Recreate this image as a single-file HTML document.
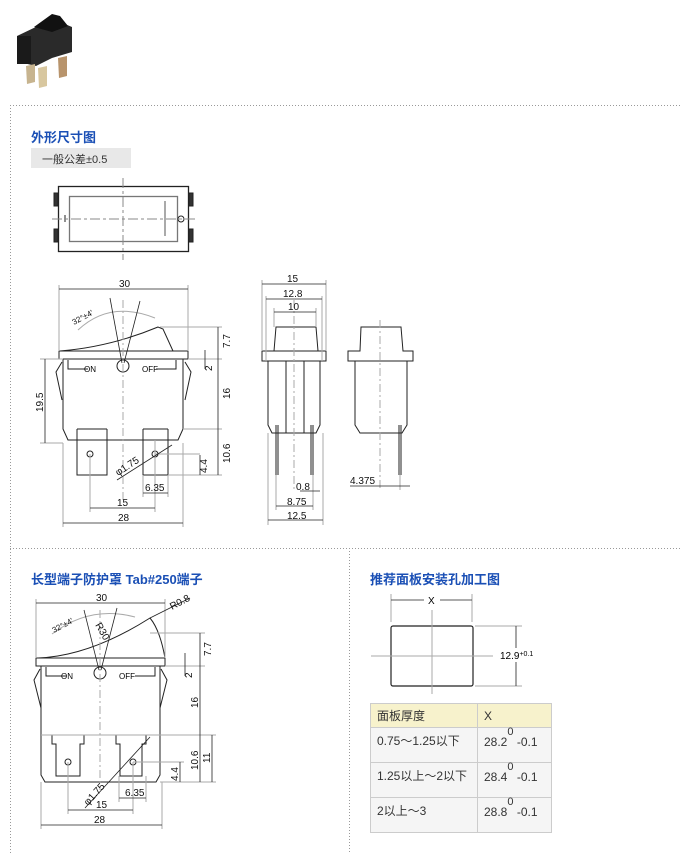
<!DOCTYPE html>
<html><head><meta charset="utf-8"><style>
html,body{margin:0;padding:0;background:#fff;width:680px;height:854px;overflow:hidden;font-family:"Liberation Sans","Noto Sans CJK SC",sans-serif;}
.t{position:absolute;color:#1a4fb5;font-weight:bold;font-size:13px;}
svg{position:absolute;left:0;top:0}
table{position:absolute;left:370px;top:703px;border-collapse:collapse;font-size:12px;color:#333}
td{border:1px solid #ccc;vertical-align:top;padding:4px 6px;background:#f5f5f5}
th{border:1px solid #ccc;background:#f7f2cc;font-weight:normal;text-align:left;padding:3px 6px;height:15px}
</style></head><body>
<svg width="680" height="854" viewBox="0 0 680 854" font-family="Liberation Sans, sans-serif" font-size="10">
<!-- photo -->
<g>
<polygon points="17,36 40,25 60,22 72,27 72,52 52,58 36,66 19,62" fill="#2a2a2a"/>
<polygon points="34,27 52,14 60,16 68,26 52,32" fill="#111"/>
<rect x="17" y="36" width="14" height="28" fill="#1a1a1a"/>
<polygon points="26,66 35,64 35,82 27,84" fill="#c7b48f"/>
<polygon points="38,68 47,66 47,86 39,88" fill="#d8c79f"/>
<polygon points="58,58 67,56 67,76 59,78" fill="#b8946c"/>
</g>
<!-- frame -->
<g stroke="#999" stroke-dasharray="1,2" fill="none">
<line x1="10" y1="105.5" x2="680" y2="105.5"/>
<line x1="10.5" y1="105" x2="10.5" y2="854"/>
<line x1="10" y1="548.5" x2="680" y2="548.5"/>
<line x1="349.5" y1="548" x2="349.5" y2="854"/>
</g>
<rect x="31" y="148" width="100" height="20" fill="#e8e8e8"/>
<text x="42" y="163" font-size="11" fill="#333" font-family="Liberation Sans, Noto Sans CJK SC, sans-serif">一般公差±0.5</text>
<!-- top view -->
<g stroke="#222" fill="none">
<rect x="58.5" y="186.5" width="130" height="65" stroke-width="1.3"/>
<rect x="69.5" y="196.5" width="108" height="45" stroke="#777" stroke-width="1.3"/>
<rect x="54" y="193" width="4" height="13" fill="#333"/><rect x="54" y="229" width="4" height="13" fill="#333"/>
<rect x="189" y="193" width="4" height="13" fill="#333"/><rect x="189" y="229" width="4" height="13" fill="#333"/>
<circle cx="181" cy="219" r="3"/><line x1="65" y1="215" x2="65" y2="222"/><line x1="165" y1="201" x2="165" y2="236" stroke="#555"/>
</g>
<g stroke="#888" stroke-dasharray="10,3,3,3"><line x1="52" y1="219" x2="197" y2="219"/><line x1="123" y1="178" x2="123" y2="260"/></g>
<!-- front view -->
<g stroke="#222" fill="none" stroke-width="1">
<path d="M60,351 Q110,347 158,327 L163,329 L173,351" />
<rect x="59" y="351" width="129" height="8"/>
<path d="M63,359 L63,429 L68,440 L178,440 L183,429 L183,359"/>
<path d="M62,362 L56,372 L62,400 M185,362 L191,372 L185,400"/>
<path d="M68,360 L68,369 L88,369 M176,360 L176,369 L156,369"/>
<circle cx="123" cy="366" r="6"/>
<path d="M77,429 L77,475 L107,475 L107,429 M143,429 L143,475 L168,475 L168,429"/>
<circle cx="90" cy="454" r="3"/><circle cx="155" cy="454" r="3"/>
<path d="M77,429 L107,429 M143,429 L168,429"/>
</g>
<text x="84" y="372" font-size="8">ON</text><text x="142" y="372" font-size="8">OFF</text>
<g stroke="#aaa" fill="none">
<path d="M78,330 Q110,300 155,318"/>
<line x1="59" y1="285" x2="59" y2="351"/><line x1="188" y1="285" x2="188" y2="351"/>
<line x1="160" y1="327" x2="222" y2="327"/><line x1="188" y1="359" x2="222" y2="359"/>
<line x1="183" y1="429" x2="222" y2="429"/><line x1="168" y1="475" x2="222" y2="475"/>
<line x1="40" y1="359" x2="63" y2="359"/><line x1="40" y1="443" x2="63" y2="443"/>
<line x1="63" y1="443" x2="63" y2="527"/><line x1="183" y1="443" x2="183" y2="527"/>
<line x1="90" y1="454" x2="90" y2="512"/><line x1="155" y1="440" x2="155" y2="512"/>
<line x1="143" y1="475" x2="143" y2="497"/><line x1="168" y1="475" x2="168" y2="497"/>
<line x1="155" y1="454" x2="200" y2="454"/>
<line x1="123" y1="300" x2="123" y2="500" stroke-dasharray="8,3,2,3"/>
</g>
<g stroke="#222" stroke-width="0.8">
<line x1="59" y1="289" x2="188" y2="289"/>
<line x1="218" y1="327" x2="218" y2="475"/><line x1="205" y1="350" x2="205" y2="369"/>
<line x1="200" y1="455" x2="200" y2="475"/><line x1="45" y1="359" x2="45" y2="443"/>
<line x1="90" y1="508" x2="155" y2="508"/><line x1="63" y1="523" x2="183" y2="523"/>
<line x1="143" y1="493" x2="168" y2="493"/><line x1="117" y1="480" x2="172" y2="445"/>
<line x1="122" y1="363" x2="110" y2="298"/><line x1="124" y1="363" x2="140" y2="301"/>
</g>
<g font-size="10" fill="#111">
<text x="119" y="287">30</text>
<text x="74" y="325" font-size="8" transform="rotate(-28 74 325)">32°±4'</text>
<text x="230" y="348" transform="rotate(-90 230 348)">7.7</text>
<text x="212" y="371" transform="rotate(-90 212 371)">2</text>
<text x="230" y="399" transform="rotate(-90 230 399)">16</text>
<text x="230" y="463" transform="rotate(-90 230 463)">10.6</text>
<text x="207" y="473" transform="rotate(-90 207 473)">4.4</text>
<text x="43" y="412" transform="rotate(-90 43 412)">19.5</text>
<text x="118" y="476" transform="rotate(-33 118 476)">φ1.75</text>
<text x="145" y="491">6.35</text><text x="117" y="506">15</text><text x="118" y="521">28</text>
</g>
<!-- side view -->
<g stroke="#222" fill="none">
<path d="M274,351 L276,327 L316,327 L318,351"/>
<rect x="262" y="351" width="64" height="10"/>
<path d="M268,361 L268,425 L272,433 L316,433 L320,425 L320,361"/>
<path d="M276,425 L276,475 M313,425 L313,475 M278,425 L278,475 M311,425 L311,475"/>
<path d="M286,361 L286,433 M304,361 L304,433"/>
<path d="M352,351 L360,351 L361,327 L401,327 L403,351 L413,351 L413,361 L348,361 L348,351 Z"/>
<path d="M355,361 L355,425 L360,433 L402,433 L407,425 L407,361"/>
<path d="M399,425 L399,475 M401,425 L401,475"/>
</g>
<g stroke="#aaa" fill="none">
<line x1="262" y1="280" x2="262" y2="351"/><line x1="326" y1="280" x2="326" y2="351"/>
<line x1="266" y1="296" x2="266" y2="361"/><line x1="322" y1="296" x2="322" y2="361"/>
<line x1="274" y1="308" x2="274" y2="327"/><line x1="316" y1="308" x2="316" y2="327"/>
<line x1="268" y1="433" x2="268" y2="525"/><line x1="323" y1="433" x2="323" y2="525"/>
<line x1="276" y1="475" x2="276" y2="510"/><line x1="313" y1="475" x2="313" y2="510"/>
<line x1="294" y1="300" x2="294" y2="490" stroke-dasharray="8,3,2,3"/>
<line x1="380" y1="320" x2="380" y2="490" stroke-dasharray="8,3,2,3"/>
<line x1="400" y1="475" x2="400" y2="490"/>
</g>
<g stroke="#222" stroke-width="0.8">
<line x1="262" y1="284" x2="326" y2="284"/><line x1="266" y1="299" x2="322" y2="299"/><line x1="274" y1="312" x2="316" y2="312"/>
<line x1="300" y1="491" x2="320" y2="491"/><line x1="276" y1="506" x2="313" y2="506"/><line x1="268" y1="520" x2="323" y2="520"/>
<line x1="350" y1="486" x2="410" y2="486"/>
</g>
<g font-size="10" fill="#111">
<text x="287" y="282">15</text><text x="283" y="297">12.8</text><text x="288" y="310">10</text>
<text x="296" y="490">0.8</text><text x="287" y="505">8.75</text><text x="287" y="519">12.5</text><text x="350" y="484">4.375</text>
</g>
<!-- bottom left -->
<g stroke="#222" fill="none">
<path d="M38,658 Q90,656 150,618 Q160,630 165,658"/>
<rect x="36" y="658" width="129" height="8"/>
<path d="M41,666 L41,775 L45,782 L156,782 L160,775 L160,666"/>
<path d="M40,669 L34,680 L41,708 M161,669 L167,680 L160,708"/>
<path d="M46,667 L46,676 L66,676 M155,667 L155,676 L135,676"/>
<circle cx="100" cy="673" r="6"/>
<path d="M52,735 L52,744 L56,744 L56,776 L80,776 L80,744 L84,744 L84,735 M116,735 L116,744 L120,744 L120,776 L142,776 L142,744 L146,744 L146,735"/>
<circle cx="68" cy="762" r="3"/><circle cx="133" cy="762" r="3"/>
<line x1="41" y1="735" x2="160" y2="735" stroke="#aaa"/>
</g>
<text x="61" y="679" font-size="8">ON</text><text x="119" y="679" font-size="8">OFF</text>
<g stroke="#aaa" fill="none">
<path d="M52,634 Q90,605 135,617"/>
<line x1="36" y1="599" x2="36" y2="658"/><line x1="165" y1="599" x2="165" y2="658"/>
<line x1="150" y1="633" x2="205" y2="633"/><line x1="165" y1="666" x2="205" y2="666"/>
<line x1="160" y1="735" x2="216" y2="735"/><line x1="160" y1="782" x2="216" y2="782"/>
<line x1="133" y1="762" x2="184" y2="762"/>
<line x1="41" y1="782" x2="41" y2="829"/><line x1="162" y1="782" x2="162" y2="829"/>
<line x1="68" y1="762" x2="68" y2="814"/><line x1="133" y1="762" x2="133" y2="814"/>
<line x1="119" y1="776" x2="119" y2="802"/><line x1="146" y1="776" x2="146" y2="802"/>
<line x1="100" y1="610" x2="100" y2="790" stroke-dasharray="8,3,2,3"/>
</g>
<g stroke="#222" stroke-width="0.8">
<line x1="36" y1="603" x2="165" y2="603"/>
<line x1="200" y1="633" x2="200" y2="782"/><line x1="212" y1="735" x2="212" y2="782"/>
<line x1="185" y1="653" x2="185" y2="676"/><line x1="180" y1="762" x2="180" y2="782"/>
<line x1="68" y1="810" x2="133" y2="810"/><line x1="41" y1="825" x2="162" y2="825"/>
<line x1="119" y1="798" x2="146" y2="798"/>
<line x1="85" y1="808" x2="150" y2="737"/><line x1="150" y1="618" x2="190" y2="598"/>
<line x1="99" y1="670" x2="84" y2="610"/><line x1="101" y1="670" x2="117" y2="608"/>
</g>
<g font-size="10" fill="#111">
<text x="96" y="601">30</text>
<text x="172" y="610" transform="rotate(-28 172 610)">R0.8</text>
<text x="95" y="625" transform="rotate(60 95 625)">R30</text>
<text x="54" y="633" font-size="8" transform="rotate(-28 54 633)">32°±4'</text>
<text x="211" y="656" transform="rotate(-90 211 656)">7.7</text>
<text x="192" y="678" transform="rotate(-90 192 678)">2</text>
<text x="198" y="708" transform="rotate(-90 198 708)">16</text>
<text x="198" y="770" transform="rotate(-90 198 770)">10.6</text>
<text x="210" y="763" transform="rotate(-90 210 763)">11</text>
<text x="178" y="781" transform="rotate(-90 178 781)">4.4</text>
<text x="88" y="806" transform="rotate(-48 88 806)">φ1.75</text>
<text x="125" y="796">6.35</text>
<text x="96" y="808">15</text>
<text x="94" y="823">28</text>
</g>
<!-- bottom right -->
<g stroke="#222" fill="none">
<rect x="391" y="626" width="82" height="60" rx="2" stroke-width="1.2"/>
</g>
<g stroke="#aaa">
<line x1="371" y1="656" x2="493" y2="656"/><line x1="432" y1="610" x2="432" y2="694"/>
<line x1="391" y1="594" x2="391" y2="622"/><line x1="472" y1="594" x2="472" y2="622"/>
<line x1="475" y1="626" x2="522" y2="626"/><line x1="475" y1="686" x2="522" y2="686"/>
</g>
<g stroke="#222" stroke-width="0.8">
<line x1="391" y1="600" x2="424" y2="600"/><line x1="440" y1="600" x2="472" y2="600"/>
<line x1="516" y1="626" x2="516" y2="648"/><line x1="516" y1="662" x2="516" y2="686"/>
</g>
<text x="428" y="604" font-size="10">X</text>
<text x="500" y="659" font-size="10">12.9<tspan font-size="7" dy="-3">+0.1</tspan></text>
</svg>
<div class="t" style="left:31px;top:127px;">外形尺寸图</div>
<div class="t" style="left:31px;top:569px;">长型端子防护罩 Tab#250端子</div>
<div class="t" style="left:370px;top:569px;">推荐面板安装孔加工图</div>
<table>
<tr><th style="width:94px">面板厚度</th><th style="width:61px">X</th></tr>
<tr><td style="height:26px">0.75～1.25以下</td><td>28.2<sup style="font-size:11px;position:relative;top:-6px">0</sup> -0.1</td></tr>
<tr><td style="height:26px">1.25以上～2以下</td><td>28.4<sup style="font-size:11px;position:relative;top:-6px">0</sup> -0.1</td></tr>
<tr><td style="height:26px">2以上～3</td><td>28.8<sup style="font-size:11px;position:relative;top:-6px">0</sup> -0.1</td></tr>
</table>
</body></html>
